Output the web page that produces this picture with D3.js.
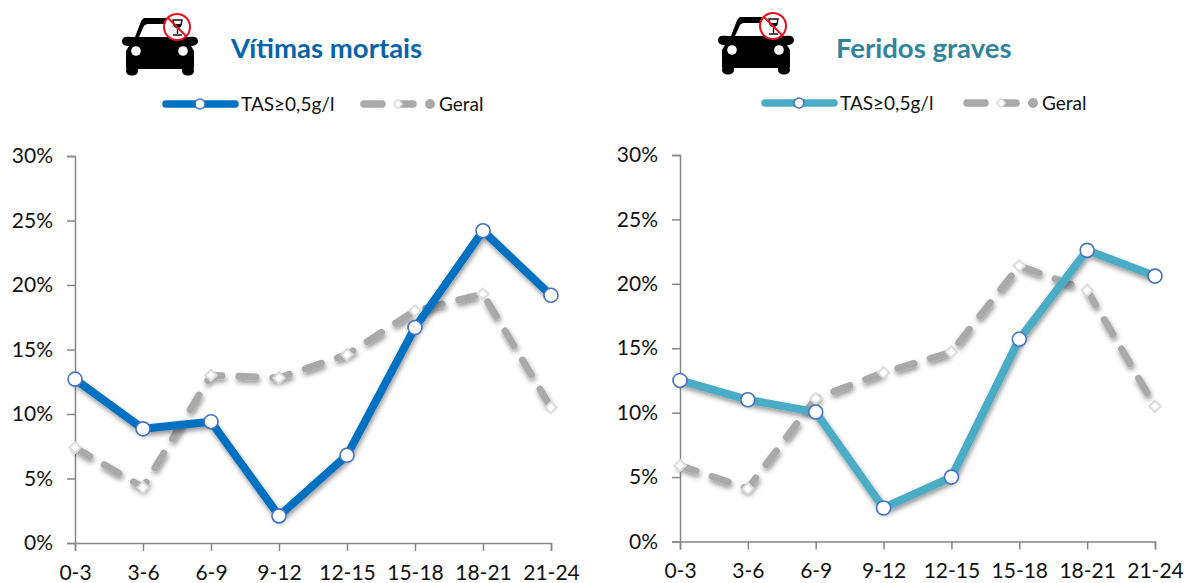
<!DOCTYPE html>
<html><head><meta charset="utf-8">
<script src="https://cdn.jsdelivr.net/npm/d3@7/dist/d3.min.js"></script>
<style>html,body{margin:0;padding:0;background:#fff}svg{display:block}text{font-family:Lato,"Open Sans",sans-serif}</style>
</head><body><svg id="c" width="1184" height="583"></svg>
<script>
const categories=["0-3","3-6","6-9","9-12","12-15","15-18","18-21","21-24"];
const yTicks=[0,5,10,15,20,25,30];
const mortaisTas=[12.7,8.85,9.4,2.1,6.8,16.7,24.2,19.2];
const mortaisGeral=[7.4,4.3,13,12.8,14.6,18,19.3,10.5];
const feridosTas=[12.5,11,10.05,2.6,5,15.7,22.6,20.6];
const feridosGeral=[5.9,4.1,11.1,13.1,14.7,21.4,19.5,10.5];
const seriesNames=["TAS≥0,5g/l","Geral"];

const svg=d3.select("#c");
const defs=svg.append("defs");
const f=defs.append("filter").attr("id","sh").attr("x","-10%").attr("y","-10%").attr("width","120%").attr("height","130%");
f.append("feDropShadow").attr("dx",1).attr("dy",3).attr("stdDeviation",2.4).attr("flood-color","#000").attr("flood-opacity",.42);

function car(g){
  g.append("path").attr("fill","#000").attr("d","M22 0H50C54 0 56 3 58 7L63 19L67 19C72 18 76 19 76 23C76 27 72 28 69 28L72 33V49C72 51 71 52 72 52V53C72 59 60 59 60 53V51H16V53C16 59 4 59 4 53V52C5 52 4 51 4 49V33L7 28C3 28 0 27 0 23C0 19 4 18 9 19L13 19L18 6C19 3 20 1 22 0Z");
  g.append("path").attr("fill","#fff").attr("d","M17 19L22 8C23 7 24 6 26 6H50L54 19Z");
  g.append("circle").attr("cx",14).attr("cy",33).attr("r",4.8).attr("fill","#fff");
  g.append("circle").attr("cx",61).attr("cy",33).attr("r",4.8).attr("fill","#fff");
  const s=g.append("g").attr("transform","translate(55,9)");
  s.append("circle").attr("r",13).attr("fill","#fff").attr("stroke","#e8101c").attr("stroke-width",2);
  s.append("path").attr("fill","none").attr("stroke","#111").attr("stroke-width",1.4).attr("d","M-4 -7H5L4 -2C3 1 -2 1 -3 -2ZM0.5 0V7M-4 8H5");
  s.append("path").attr("fill","#111").attr("d","M-3.6 -3H4.6L4 -1C3 1 -2 1 -3 -1Z");
  s.append("line").attr("x1",-9.2).attr("y1",-9.2).attr("x2",9.2).attr("y2",9.2).attr("stroke","#e8101c").attr("stroke-width",2);
}

function panel(o){
  const x=d3.scalePoint().domain(categories).range([o.x0,o.x1]);
  const y=d3.scaleLinear().domain([0,30]).range([o.y0,o.y1]);
  const g=svg.append("g");

  const ax=g.append("g").attr("transform",`translate(0,${o.y0})`)
    .call(d3.axisBottom(x).tickSize(8).tickPadding(14));
  const ay=g.append("g").attr("transform",`translate(${o.x0},0)`)
    .call(d3.axisLeft(y).tickValues(yTicks).tickFormat(d=>d+"%").tickSize(8).tickPadding(14));
  [ax,ay].forEach(a=>{
    a.select(".domain").attr("stroke","#868686").attr("stroke-width",1.5);
    a.selectAll(".tick line").attr("stroke","#868686").attr("stroke-width",1.5);
    a.selectAll("text").attr("fill","#111").style("font-size","21px").style("font-family","Lato,sans-serif");
  });

  const line=d3.line().x((d,i)=>x(categories[i])).y(d=>y(d));
  g.append("path").datum(o.geral).attr("d",line).attr("fill","none").attr("stroke","#a9a9a9")
    .attr("stroke-width",7).attr("stroke-linecap","round").attr("stroke-dasharray","17 17").attr("filter","url(#sh)");
  g.append("path").datum(o.tas).attr("d",line).attr("fill","none").attr("stroke",o.color)
    .attr("stroke-width",8).attr("stroke-linejoin","miter").attr("filter","url(#sh)");

  const diamond=d3.symbol().type(d3.symbolSquare).size(64);
  g.selectAll(".gd").data(o.geral).join("path").attr("d",diamond)
    .attr("transform",(d,i)=>`translate(${x(categories[i])},${y(d)}) rotate(45)`)
    .attr("fill","#fff").attr("stroke","#dcdcdc").attr("stroke-width",2);
  g.selectAll(".gt").data(o.tas).join("circle")
    .attr("cx",(d,i)=>x(categories[i])).attr("cy",d=>y(d)).attr("r",7)
    .attr("fill","#fff").attr("stroke","#4472c4").attr("stroke-width",1.6);

  // header
  car(g.append("g").attr("transform",`translate(${o.carX},${o.carY})`));
  g.append("text").attr("x",o.titleX).attr("y",58).attr("fill",o.titleColor)
    .style("font-size","27.5px").style("font-weight",700).text(o.title);

  // legend
  const ly=o.legY;
  g.append("line").attr("x1",o.lx).attr("x2",o.lx+69).attr("y1",ly).attr("y2",ly)
    .attr("stroke",o.color).attr("stroke-width",7.5).attr("stroke-linecap","round");
  g.append("circle").attr("cx",o.lx+34).attr("cy",ly).attr("r",5).attr("fill","#fff").attr("stroke","#4472c4").attr("stroke-width",1.6);
  g.append("text").attr("x",o.lx+75).attr("y",ly+6.5).attr("fill","#111").style("font-size","19px").text(seriesNames[0]);
  const gx=o.gx;
  g.append("line").attr("x1",gx).attr("x2",gx+18).attr("y1",ly).attr("y2",ly)
    .attr("stroke","#a9a9a9").attr("stroke-width",7.5).attr("stroke-linecap","round");
  g.append("line").attr("x1",gx+36).attr("x2",gx+49).attr("y1",ly).attr("y2",ly)
    .attr("stroke","#a9a9a9").attr("stroke-width",7.5).attr("stroke-linecap","round");
  g.append("circle").attr("cx",gx+66).attr("cy",ly).attr("r",5).attr("fill","#a9a9a9");
  g.append("path").attr("d",d3.symbol().type(d3.symbolSquare).size(40))
    .attr("transform",`translate(${gx+34},${ly}) rotate(45)`).attr("fill","#fff").attr("stroke","#dcdcdc").attr("stroke-width",1.5);
  g.append("text").attr("x",gx+75).attr("y",ly+6.5).attr("fill","#111").style("font-size","19px").text(seriesNames[1]);
}

panel({x0:75,x1:551,y0:543,y1:156,tas:mortaisTas,geral:mortaisGeral,color:"#0070c0",
  title:"Vítimas mortais",titleColor:"#0563a8",titleX:231,carX:122,carY:18,lx:166,legY:104,gx:364});
panel({x0:680,x1:1155,y0:541.5,y1:155,tas:feridosTas,geral:feridosGeral,color:"#4bacc6",
  title:"Feridos graves",titleColor:"#31849b",titleX:836,carX:718,carY:17,lx:765,legY:103,gx:967});
</script></body></html>
